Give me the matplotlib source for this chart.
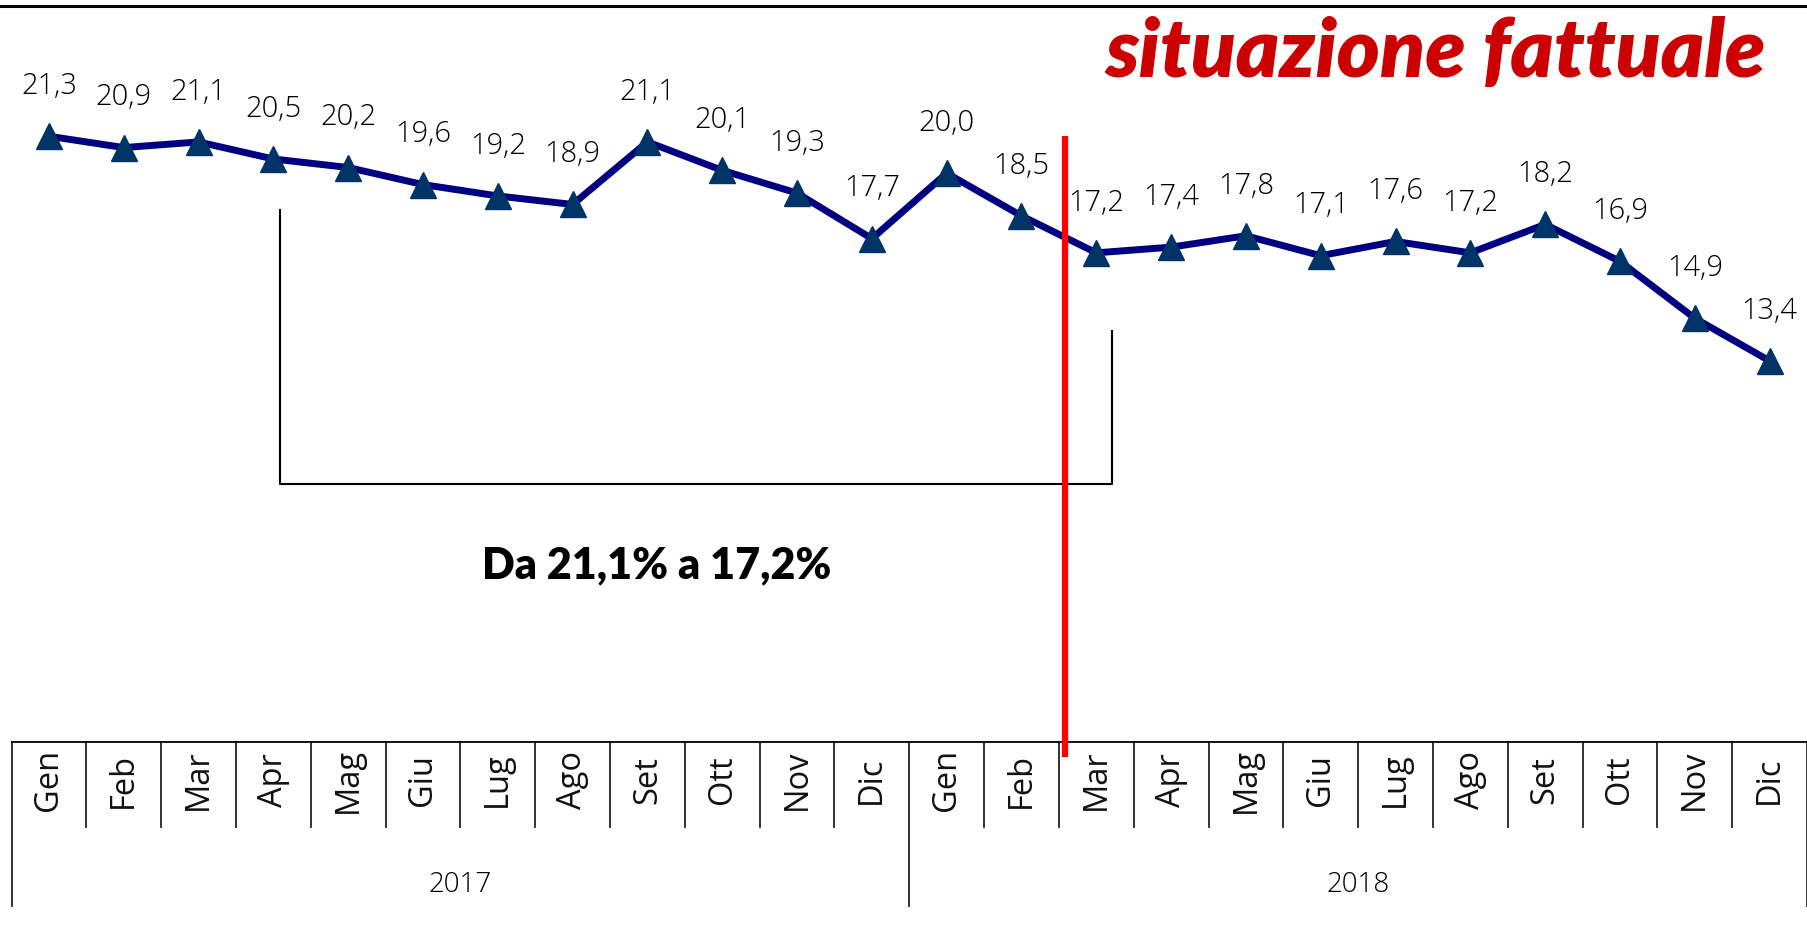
import matplotlib
matplotlib.use("Agg")
import matplotlib.pyplot as plt
from matplotlib.lines import Line2D
import numpy as np

months = ["Gen", "Feb", "Mar", "Apr", "Mag", "Giu", "Lug", "Ago", "Set", "Ott", "Nov", "Dic"]
years = ["2017", "2018"]
values_2017 = [21.3, 20.9, 21.1, 20.5, 20.2, 19.6, 19.2, 18.9, 21.1, 20.1, 19.3, 17.7]
values_2018 = [20.0, 18.5, 17.2, 17.4, 17.8, 17.1, 17.6, 17.2, 18.2, 16.9, 14.9, 13.4]

title_text = "situazione fattuale"
bracket_text = "Da 21,1% a 17,2%"

values = values_2017 + values_2018
labels = months * len(years)
n = len(values)
x = np.arange(n)

W, H = 1807, 933
fig = plt.figure(figsize=(W / 100, H / 100), dpi=100)
fig.patch.set_facecolor("white")

# plot area in pixels (from top-left)
left_px, right_px = 11.5, 1807
top_px, bottom_px = 31, 742
ax = fig.add_axes([left_px / W, 1 - bottom_px / H,
                   (right_px - left_px) / W, (bottom_px - top_px) / H])
ax.set_xlim(-0.5, n - 0.5)
ax.set_ylim(0, 25)
for s in ["left", "right", "top"]:
    ax.spines[s].set_visible(False)
ax.spines["bottom"].set_linewidth(1.3)
ax.set_xticks([])
ax.set_yticks([])
ax.patch.set_alpha(0)

# series
ax.plot(x, values, color="#000080", linewidth=5, zorder=3,
        marker="^", markersize=19, markerfacecolor="#003366",
        markeredgecolor="#003366", clip_on=False)

for xi, v in zip(x, values):
    ax.annotate(f"{v:.1f}".replace(".", ","), (xi, v), xytext=(0, 36),
                textcoords="offset points", ha="center", va="center",
                fontsize=21, family="Open Sans", fontweight="light",
                color="black")

# red cut-off line between Feb and Mar 2018
cutoff = 13.58
red_top, red_bottom = 21.3, -0.53
ax.plot([cutoff, cutoff], [red_bottom, red_top], color="#ff0000",
        linewidth=4.5, solid_capstyle="butt", zorder=4, clip_on=False)

# bracket
bx0, bx1 = 3.09, 14.21
by_left, by_right, by_bottom = 18.7, 14.45, 9.07
ax.plot([bx0, bx0, bx1, bx1], [by_left, by_bottom, by_bottom, by_right],
        color="black", linewidth=1.5, zorder=2)
ax.text(8.13, 6.2, bracket_text, ha="center", va="center",
        fontsize=31, fontweight="heavy", family="Lato", color="black")

# category axis (months + years)
tr = ax.get_xaxis_transform()
span = bottom_px - top_px
row1 = -(827 - bottom_px) / span
row2 = -(906 - bottom_px) / span
for i in range(n + 1):
    edge = i - 0.5
    low = row2 if i % len(months) == 0 else row1
    ax.plot([edge, edge], [0, low], transform=tr, color="#222222",
            linewidth=1.3, clip_on=False)
for xi, lab in zip(x, labels):
    ax.text(xi, -(780 - bottom_px) / span, lab, transform=tr, rotation=90,
            ha="center", va="center", fontsize=23.5, family="Open Sans",
            color="#111111")
for j, yr in enumerate(years):
    cx = j * len(months) + (len(months) - 1) / 2
    ax.text(cx, -(885 - bottom_px) / span, yr, transform=tr, ha="center",
            va="center", fontsize=20, family="Open Sans", fontweight="light",
            color="black")

# top rule and title
fig.add_artist(Line2D([0, 1], [1 - 6 / H, 1 - 6 / H], color="black",
                      linewidth=2.2, transform=fig.transFigure))
fig.text(1766 / W, 1 - 77 / H, title_text, ha="right", va="baseline",
         fontsize=59, fontweight="heavy", style="italic", family="Lato",
         color="#cc0000")

fig.savefig("out.png", dpi=100, facecolor="white")
